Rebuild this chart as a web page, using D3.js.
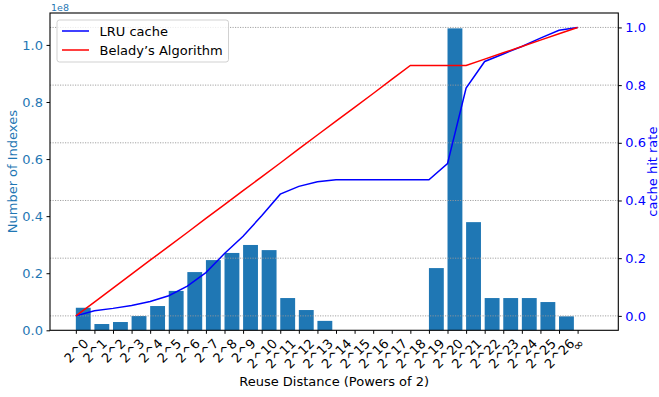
<!DOCTYPE html>
<html>
<head>
<meta charset="utf-8">
<script src="https://cdn.jsdelivr.net/npm/d3@7"></script>
<style>
  body { margin: 0; background: #fff; }
  svg { display: block; font-family: "DejaVu Sans", sans-serif; }
</style>
</head>
<body>
<div id="chart"></div>
<script>
// bucket labels (reuse distance, powers of 2)
const xLabels = ["2^0","2^1","2^2","2^3","2^4","2^5","2^6","2^7","2^8","2^9","2^10",
  "2^11","2^12","2^13","2^14","2^15","2^16","2^17","2^18","2^19","2^20","2^21",
  "2^22","2^23","2^24","2^25","2^26","\u221e"];

// number of indexes per bucket
const indexCounts = [7.9e6, 2.2e6, 2.9e6, 5.0e6, 8.5e6, 13.8e6, 20.4e6, 24.6e6, 27.1e6,
  29.9e6, 28.1e6, 11.3e6, 7.1e6, 3.3e6, 0, 0, 0, 0, 0, 21.8e6, 105.8e6, 37.9e6,
  11.3e6, 11.3e6, 11.3e6, 9.9e6, 4.9e6, 0];

// cumulative hit rates
const lruHitRate = [0.0, 0.018, 0.026, 0.036, 0.050, 0.070, 0.103, 0.150, 0.216, 0.276,
  0.347, 0.422, 0.449, 0.465, 0.472, 0.472, 0.472, 0.472, 0.472, 0.472, 0.528, 0.790,
  0.882, 0.908, 0.934, 0.963, 0.990, 1.0];
const beladyHitRate = [0.0, 0.048, 0.096, 0.145, 0.193, 0.241, 0.289, 0.338, 0.386, 0.434,
  0.482, 0.530, 0.579, 0.627, 0.675, 0.723, 0.771, 0.820, 0.868, 0.868, 0.868, 0.868,
  0.890, 0.912, 0.934, 0.956, 0.978, 1.0];

const leftTicks = [0, 0.2e8, 0.4e8, 0.6e8, 0.8e8, 1.0e8];
const rightTicks = [0, 0.2, 0.4, 0.6, 0.8, 1.0];

const width = 659, height = 397;
const plot = { left: 50, right: 618.3, top: 13, bottom: 330.3 };
const barBlue = "#1f77b4";
const fontSize = 13;

const svg = d3.select("#chart").append("svg")
  .attr("width", width)
  .attr("height", height);

const x = d3.scaleLinear().domain([-1.39, 29.19]).range([plot.left, plot.right]);
const yL = d3.scaleLinear().domain([0, 1.1118e8]).range([plot.bottom, plot.top]);
const yR = d3.scaleLinear().domain([-0.05, 1.05]).range([plot.bottom, plot.top]);

const idx = d3.range(xLabels.length);

// Bars (aligned to the left edge of each tick)
svg.append("g")
  .selectAll("rect")
  .data(idx)
  .enter()
  .append("rect")
  .attr("x", i => x(i))
  .attr("width", x(0.8) - x(0))
  .attr("y", i => yL(indexCounts[i]))
  .attr("height", i => yL(0) - yL(indexCounts[i]))
  .attr("fill", barBlue);

// Grid from the right axis
svg.append("g")
  .selectAll("line")
  .data(rightTicks)
  .enter()
  .append("line")
  .attr("x1", plot.left)
  .attr("x2", plot.right)
  .attr("y1", d => yR(d))
  .attr("y2", d => yR(d))
  .attr("stroke", "#999")
  .attr("stroke-width", 0.9)
  .attr("stroke-dasharray", "1.2,1.3");

// Lines
const line = arr => d3.line().x(i => x(i)).y(i => yR(arr[i]))(idx);
svg.append("path").attr("d", line(lruHitRate))
  .attr("fill", "none").attr("stroke", "blue").attr("stroke-width", 1.5);
svg.append("path").attr("d", line(beladyHitRate))
  .attr("fill", "none").attr("stroke", "red").attr("stroke-width", 1.5);

// Frame
svg.append("rect")
  .attr("x", plot.left).attr("y", plot.top)
  .attr("width", plot.right - plot.left)
  .attr("height", plot.bottom - plot.top)
  .attr("fill", "none").attr("stroke", "#000").attr("stroke-width", 1.1);

// Left axis
const gL = svg.append("g")
  .attr("transform", `translate(${plot.left},0)`)
  .call(d3.axisLeft(yL).tickValues(leftTicks)
    .tickFormat(d => (d / 1e8).toFixed(1)).tickSize(3.5).tickPadding(3.5));
gL.select(".domain").remove();
gL.selectAll("text").attr("fill", barBlue)
  .style("font-family", "DejaVu Sans").style("font-size", fontSize + "px");
gL.selectAll("line").attr("stroke", "#000");

// Right axis
const gR = svg.append("g")
  .attr("transform", `translate(${plot.right},0)`)
  .call(d3.axisRight(yR).tickValues(rightTicks)
    .tickFormat(d3.format(".1f")).tickSize(3.5).tickPadding(3.5));
gR.select(".domain").remove();
gR.selectAll("text").attr("fill", "blue")
  .style("font-family", "DejaVu Sans").style("font-size", fontSize + "px");
gR.selectAll("line").attr("stroke", "#000");

// Bottom axis with rotated labels
const gB = svg.append("g")
  .attr("transform", `translate(0,${plot.bottom})`)
  .call(d3.axisBottom(x).tickValues(idx)
    .tickFormat(i => xLabels[i]).tickSize(3.5));
gB.select(".domain").remove();
gB.selectAll("line").attr("stroke", "#000");
gB.selectAll("text")
  .attr("fill", "#000")
  .style("font-family", "DejaVu Sans")
  .style("font-size", fontSize + "px")
  .attr("y", null)
  .attr("dy", "0.35em")
  .attr("text-anchor", "middle")
  .attr("transform", function() {
    const L = this.getComputedTextLength();
    const yc = 6.9 + 0.3535 * (L + 0.85 * fontSize);
    return `translate(0,${yc}) rotate(-45)`;
  });

// Offset text
svg.append("text")
  .attr("x", plot.left + 1).attr("y", 10.5)
  .attr("fill", barBlue)
  .style("font-size", "9.5px")
  .text("1e8");

// Axis labels
svg.append("text")
  .attr("transform", `translate(17,${(plot.top + plot.bottom) / 2}) rotate(-90)`)
  .attr("text-anchor", "middle")
  .attr("fill", barBlue)
  .style("font-size", fontSize + "px")
  .text("Number of Indexes");

svg.append("text")
  .attr("transform", `translate(657,${(plot.top + plot.bottom) / 2}) rotate(-90)`)
  .attr("text-anchor", "middle")
  .attr("fill", "blue")
  .style("font-size", fontSize + "px")
  .text("cache hit rate");

svg.append("text")
  .attr("x", (plot.left + plot.right) / 2)
  .attr("y", 386)
  .attr("text-anchor", "middle")
  .attr("fill", "#000")
  .style("font-size", fontSize + "px")
  .text("Reuse Distance (Powers of 2)");

// Legend
const legend = svg.append("g");
legend.append("rect")
  .attr("x", 57).attr("y", 20).attr("width", 171.5).attr("height", 42)
  .attr("rx", 2.5)
  .attr("fill", "#fff").attr("fill-opacity", 0.8)
  .attr("stroke", "#ccc").attr("stroke-width", 0.9);
const legendItems = [
  { name: "LRU cache", color: "blue" },
  { name: "Belady\u2019s Algorithm", color: "red" }
];
legendItems.forEach((d, i) => {
  const yy = 31 + i * 19;
  legend.append("line")
    .attr("x1", 62).attr("x2", 89).attr("y1", yy).attr("y2", yy)
    .attr("stroke", d.color).attr("stroke-width", 1.5);
  legend.append("text")
    .attr("x", 99.5).attr("y", yy + 4.7)
    .attr("fill", "#000")
    .style("font-size", fontSize + "px")
    .text(d.name);
});
</script>
</body>
</html>
